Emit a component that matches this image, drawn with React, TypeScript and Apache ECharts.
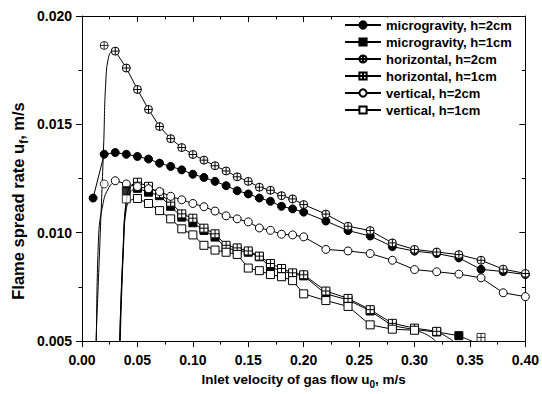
import React, { useEffect, useRef } from "react";
import * as echarts from "echarts";

const SERIES_NAMES = [
  "microgravity, h=2cm",
  "microgravity, h=1cm",
  "horizontal, h=2cm",
  "horizontal, h=1cm",
  "vertical, h=2cm",
  "vertical, h=1cm",
];

// microgravity, h=2cm (filled circles)
const mg2X = [0.01, 0.02, 0.03, 0.04, 0.05, 0.06, 0.07, 0.08, 0.09, 0.10, 0.11, 0.12, 0.13, 0.14, 0.15, 0.16, 0.17, 0.18, 0.19, 0.20, 0.22, 0.24, 0.26, 0.28, 0.30, 0.32, 0.34, 0.36, 0.38, 0.40];
const mg2Y = [0.0116, 0.01362, 0.0137, 0.01362, 0.01352, 0.0134, 0.01321, 0.01306, 0.0129, 0.0127, 0.01255, 0.01237, 0.01217, 0.01194, 0.01179, 0.0116, 0.01145, 0.01122, 0.0111, 0.01095, 0.01054, 0.0101, 0.00985, 0.00936, 0.00915, 0.00904, 0.00884, 0.00831, 0.00821, 0.00807];

// microgravity, h=1cm (filled squares)
const mg1IsoX = [0.04];
const mg1IsoY = [0.01194];
const mg1X = [0.05, 0.06, 0.07, 0.08, 0.09, 0.10, 0.11, 0.12, 0.13, 0.14, 0.15, 0.16, 0.17, 0.18, 0.19, 0.20, 0.22, 0.24, 0.26, 0.28, 0.30, 0.32, 0.34];
const mg1Y = [0.01205, 0.01187, 0.01171, 0.01122, 0.01072, 0.01046, 0.01011, 0.0098, 0.00929, 0.00919, 0.0091, 0.00889, 0.0084, 0.00825, 0.0081, 0.00801, 0.00718, 0.0069, 0.00639, 0.00571, 0.00553, 0.00542, 0.00525];
const mg1HeadX = [0.034, 0.037, 0.04, 0.044, 0.05];
const mg1HeadY = [0.005, 0.0092, 0.0114, 0.0119, 0.01205];
const mg1EndX = [0.34, 0.347, 0.352];
const mg1EndY = [0.00525, 0.0051, 0.005];

// horizontal, h=2cm (crossed circles)
const hz2IsoX = [0.02];
const hz2IsoY = [0.01864];
const hz2X = [0.03, 0.04, 0.05, 0.06, 0.07, 0.08, 0.09, 0.10, 0.11, 0.12, 0.13, 0.14, 0.15, 0.16, 0.17, 0.18, 0.19, 0.20, 0.22, 0.24, 0.26, 0.28, 0.30, 0.32, 0.34, 0.36, 0.38, 0.40];
const hz2Y = [0.01838, 0.0176, 0.01661, 0.01569, 0.0149, 0.01434, 0.01393, 0.01361, 0.01335, 0.01309, 0.01285, 0.01258, 0.01237, 0.0121, 0.01196, 0.01171, 0.01156, 0.0113, 0.01086, 0.0103, 0.0101, 0.00953, 0.00923, 0.00911, 0.00899, 0.00873, 0.00832, 0.00812];
const hz2HeadX = [0.0126, 0.0165, 0.0195, 0.0215, 0.024, 0.027, 0.03];
const hz2HeadY = [0.005, 0.01, 0.014, 0.017, 0.0181, 0.01836, 0.01838];

// horizontal, h=1cm (crossed squares)
const hz1IsoX = [0.36];
const hz1IsoY = [0.00517];
const hz1X = [0.05, 0.06, 0.07, 0.08, 0.09, 0.10, 0.11, 0.12, 0.13, 0.14, 0.15, 0.16, 0.17, 0.18, 0.19, 0.20, 0.22, 0.24, 0.26, 0.28, 0.30, 0.32];
const hz1Y = [0.01233, 0.01214, 0.0118, 0.01141, 0.01087, 0.01067, 0.01021, 0.00995, 0.00942, 0.0093, 0.00916, 0.00892, 0.00858, 0.00835, 0.00815, 0.00806, 0.00731, 0.00697, 0.00645, 0.00582, 0.0056, 0.00545];
const hz1HeadX = [0.0345, 0.0375, 0.0405, 0.045, 0.05];
const hz1HeadY = [0.005, 0.0094, 0.0117, 0.0122, 0.01233];
const hz1EndX = [0.32, 0.329, 0.335];
const hz1EndY = [0.00545, 0.0052, 0.005];

// vertical, h=2cm (open circles)
const vt2IsoX = [0.02];
const vt2IsoY = [0.01225];
const vt2X = [0.03, 0.04, 0.05, 0.06, 0.07, 0.08, 0.09, 0.10, 0.11, 0.12, 0.13, 0.14, 0.15, 0.16, 0.17, 0.18, 0.19, 0.20, 0.22, 0.24, 0.26, 0.28, 0.30, 0.32, 0.34, 0.36, 0.38, 0.40];
const vt2Y = [0.0124, 0.01225, 0.01213, 0.01203, 0.0119, 0.01168, 0.01152, 0.01135, 0.0112, 0.011, 0.01078, 0.01064, 0.0105, 0.01022, 0.01011, 0.00993, 0.0099, 0.00981, 0.00923, 0.00916, 0.00904, 0.00873, 0.0083, 0.0082, 0.00809, 0.00792, 0.00723, 0.00705];
const vt2HeadX = [0.013, 0.0148, 0.0192, 0.0245, 0.03];
const vt2HeadY = [0.005, 0.0096, 0.0114, 0.0121, 0.0124];

// vertical, h=1cm (open squares)
const vt1IsoX = [0.04];
const vt1IsoY = [0.01156];
const vt1X = [0.05, 0.06, 0.07, 0.08, 0.09, 0.10, 0.11, 0.12, 0.13, 0.14, 0.15, 0.16, 0.17, 0.18, 0.19, 0.20, 0.22, 0.24, 0.26, 0.28, 0.30];
const vt1Y = [0.01158, 0.01135, 0.01102, 0.01064, 0.01018, 0.0099, 0.00942, 0.0092, 0.0091, 0.009, 0.00837, 0.00825, 0.00807, 0.00797, 0.00779, 0.00718, 0.00687, 0.0066, 0.00575, 0.00555, 0.0055];
const vt1HeadX = [0.034, 0.037, 0.04, 0.044, 0.05];
const vt1HeadY = [0.005, 0.009, 0.0111, 0.0115, 0.01158];
const vt1EndX = [0.30, 0.311, 0.319];
const vt1EndY = [0.0055, 0.0053, 0.005];

const FONT = "'Liberation Sans', Arial, sans-serif";
const CROSS_CIRCLE = "path://M0,10 A10,10 0 1,1 20,10 A10,10 0 1,1 0,10 Z M0,10 L20,10 M10,0 L10,20";
const CROSS_SQUARE = "path://M0,0 L20,0 L20,20 L0,20 Z M0,10 L20,10 M10,0 L10,20";

const zip = (xs: number[], ys: number[]) => xs.map((x, i) => [x, ys[i]]);

const LINE = { color: "#000", width: 1 };
const SYM = 8;

function mainSeries(name: string, xs: number[], ys: number[], symbol: string, fill: string) {
  return {
    type: "line",
    name,
    data: zip(xs, ys),
    symbol,
    symbolSize: SYM,
    showAllSymbol: true,
    lineStyle: LINE,
    itemStyle: { color: fill, borderColor: "#000", borderWidth: 1 },
    z: 3,
  };
}

function isoSeries(xs: number[], ys: number[], symbol: string, fill: string) {
  return {
    type: "scatter",
    data: zip(xs, ys),
    symbol,
    symbolSize: SYM,
    itemStyle: { color: fill, borderColor: "#000", borderWidth: 1 },
    z: 4,
  };
}

function tailSeries(xs: number[], ys: number[]) {
  return {
    type: "line",
    data: zip(xs, ys),
    symbol: "none",
    smooth: true,
    lineStyle: LINE,
    z: 2,
  };
}

const xRich = {
  a: { fontFamily: FONT, fontWeight: "bold", fontSize: 13.5, color: "#000", lineHeight: 20 },
  s: { fontFamily: FONT, fontWeight: "bold", fontSize: 10, color: "#000", lineHeight: 10, verticalAlign: "bottom" },
};
const yRich = {
  a: { fontFamily: FONT, fontWeight: "bold", fontSize: 16.5, color: "#000", lineHeight: 24 },
  s: { fontFamily: FONT, fontWeight: "bold", fontSize: 12, color: "#000", lineHeight: 12, verticalAlign: "bottom" },
};

export default function App() {
  const ref = useRef<HTMLDivElement>(null);
  useEffect(() => {
    if (!ref.current) return;
    const chart = echarts.init(ref.current, undefined, { renderer: "svg" });
    const axisLine = { show: true, onZero: false, lineStyle: { color: "#000", width: 1 } };
    const tick = { show: true, length: 6, lineStyle: { color: "#000", width: 1 } };
    const minor = { show: true, splitNumber: 2, length: 3.5, lineStyle: { color: "#000", width: 1 } };
    const label = { fontFamily: FONT, fontWeight: "bold", fontSize: 14, color: "#000" };
    chart.setOption({
      animation: false,
      backgroundColor: "#fff",
      grid: { left: 82, right: 14, top: 16, bottom: 51, containLabel: false },
      legend: {
        data: SERIES_NAMES,
        orient: "vertical",
        left: 342,
        top: 17.5,
        itemWidth: 36,
        itemHeight: 9,
        itemGap: 4,
        padding: [1, 4, 2, 2],
        backgroundColor: "#fff",
        textStyle: { fontFamily: FONT, fontWeight: "bold", fontSize: 13, color: "#000" },
      },
      graphic: [
        {
          type: "text",
          x: 18,
          y: 201,
          rotation: Math.PI / 2,
          style: {
            text: "{a|Flame spread rate u}{s|f}{a|, m/s}",
            rich: yRich,
            align: "center",
            verticalAlign: "middle",
          },
        },
      ],
      xAxis: [
        {
          type: "value",
          min: 0,
          max: 0.4,
          interval: 0.05,
          position: "bottom",
          axisLine,
          axisTick: { ...tick, inside: false },
          minorTick: minor,
          splitLine: { show: false },
          minorSplitLine: { show: false },
          axisLabel: { ...label, margin: 12, formatter: (v: number) => v.toFixed(2) },
          name: "{a|Inlet velocity of gas flow u}{s|0}{a|, m/s}",
          nameLocation: "middle",
          nameGap: 27,
          nameTextStyle: { rich: xRich },
        },
        {
          type: "value",
          min: 0,
          max: 0.4,
          interval: 0.05,
          position: "top",
          axisLine,
          axisTick: { ...tick, inside: true },
          minorTick: minor,
          splitLine: { show: false },
          axisLabel: { show: false },
        },
      ],
      yAxis: [
        {
          type: "value",
          min: 0.005,
          max: 0.02,
          interval: 0.005,
          position: "left",
          axisLine,
          axisTick: { ...tick, inside: false },
          minorTick: minor,
          splitLine: { show: false },
          axisLabel: { ...label, margin: 10, formatter: (v: number) => v.toFixed(3) },
        },
        {
          type: "value",
          min: 0.005,
          max: 0.02,
          interval: 0.005,
          position: "right",
          axisLine,
          axisTick: { ...tick, inside: true },
          minorTick: minor,
          splitLine: { show: false },
          axisLabel: { show: false },
        },
      ],
      series: [
        mainSeries(SERIES_NAMES[0], mg2X, mg2Y, "circle", "#000"),
        mainSeries(SERIES_NAMES[1], mg1X, mg1Y, "rect", "#000"),
        mainSeries(SERIES_NAMES[2], hz2X, hz2Y, CROSS_CIRCLE, "#fff"),
        mainSeries(SERIES_NAMES[3], hz1X, hz1Y, CROSS_SQUARE, "#fff"),
        mainSeries(SERIES_NAMES[4], vt2X, vt2Y, "circle", "#fff"),
        mainSeries(SERIES_NAMES[5], vt1X, vt1Y, "rect", "#fff"),
        isoSeries(mg1IsoX, mg1IsoY, "rect", "#000"),
        isoSeries(hz2IsoX, hz2IsoY, CROSS_CIRCLE, "#fff"),
        isoSeries(hz1IsoX, hz1IsoY, CROSS_SQUARE, "#fff"),
        isoSeries(vt2IsoX, vt2IsoY, "circle", "#fff"),
        isoSeries(vt1IsoX, vt1IsoY, "rect", "#fff"),
        tailSeries(mg1HeadX, mg1HeadY),
        tailSeries(mg1EndX, mg1EndY),
        tailSeries(hz2HeadX, hz2HeadY),
        tailSeries(hz1HeadX, hz1HeadY),
        tailSeries(hz1EndX, hz1EndY),
        tailSeries(vt2HeadX, vt2HeadY),
        tailSeries(vt1HeadX, vt1HeadY),
        tailSeries(vt1EndX, vt1EndY),
      ],
    });
    return () => chart.dispose();
  }, []);
  return <div ref={ref} style={{ position: "fixed", left: 0, top: 0, width: 542, height: 394 }} />;
}
